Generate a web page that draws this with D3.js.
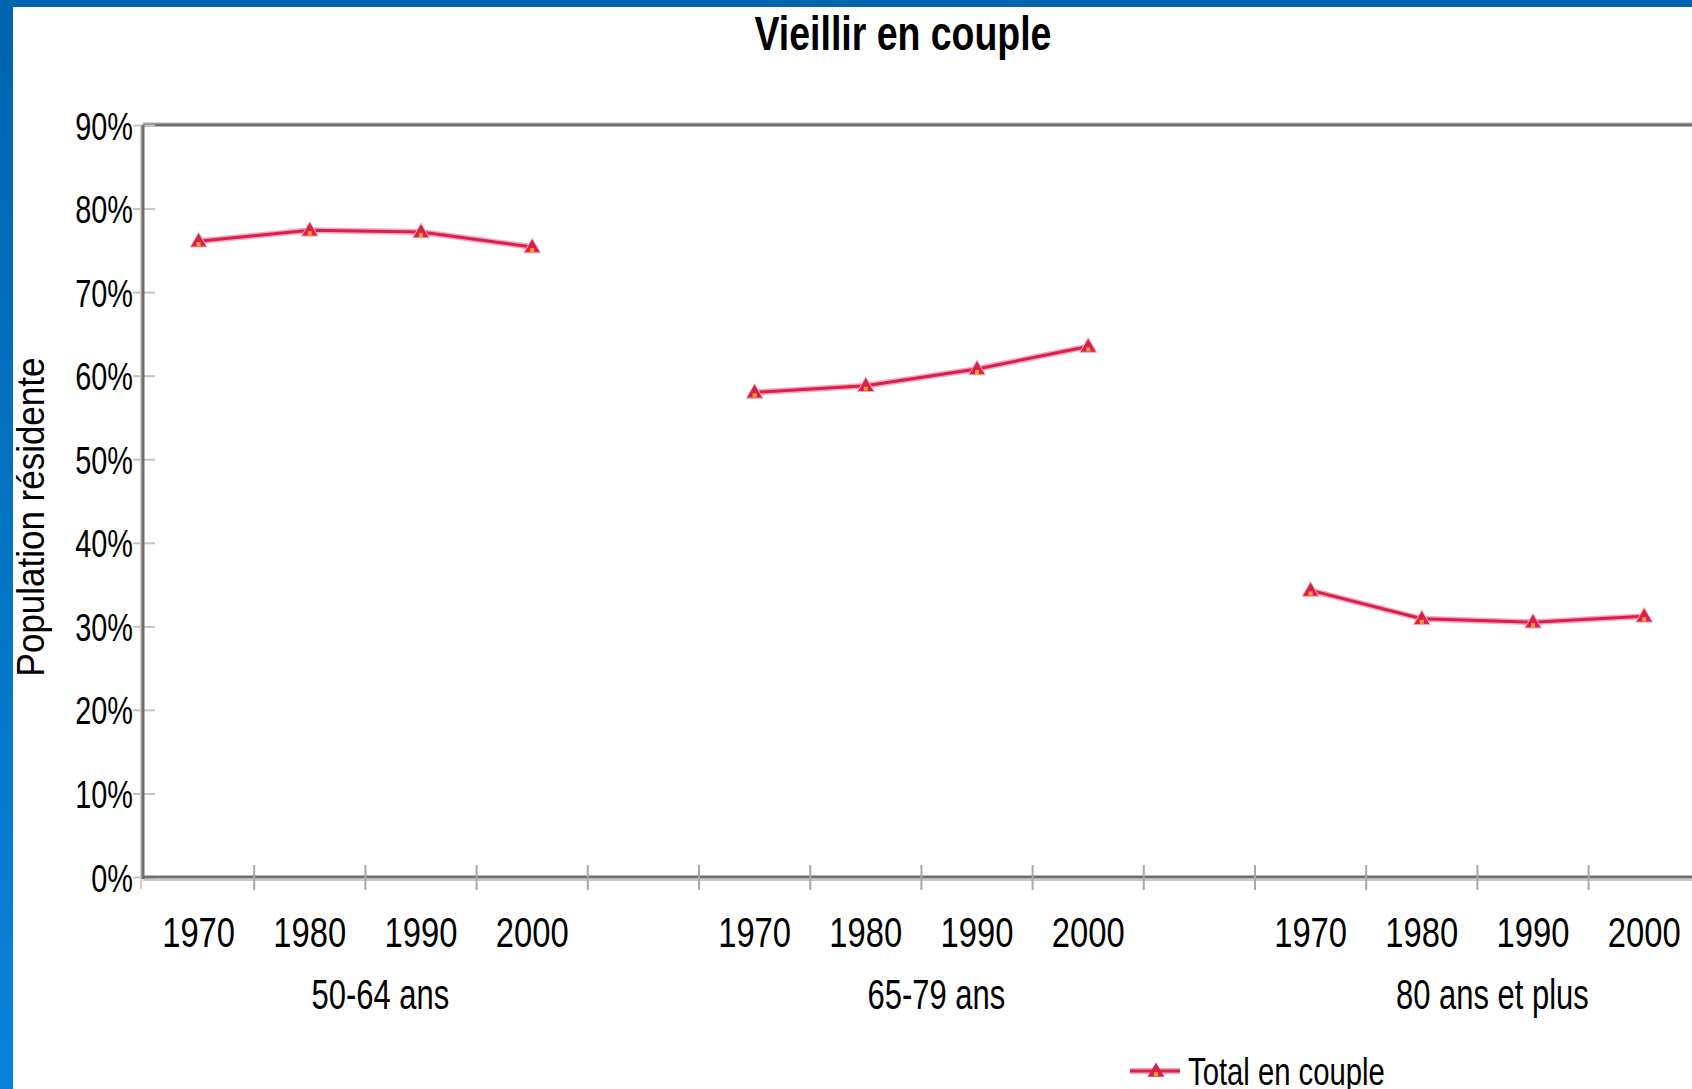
<!DOCTYPE html>
<html>
<head>
<meta charset="utf-8">
<script src="https://cdn.jsdelivr.net/npm/d3@7"></script>
<style>
  body { margin: 0; background: #fff; }
  svg { display: block; font-family: "Liberation Sans", Arial, sans-serif; }
</style>
</head>
<body>
<svg id="chart" width="1692" height="1089"></svg>
<script>
// data
const groups = ["50-64 ans", "65-79 ans", "80 ans et plus"];
const years = ["1970", "1980", "1990", "2000"];
const coupleShare = [
  [76.1, 77.4, 77.2, 75.4],
  [58.0, 58.8, 60.8, 63.5],
  [34.3, 30.9, 30.5, 31.2]
];
const yTicks = [0, 10, 20, 30, 40, 50, 60, 70, 80, 90];
const seriesName = "Total en couple";

const svg = d3.select("#chart");
const W = 1692, H = 1089;
const plotLeft = 143, plotTop = 125, plotBottom = 877, band = 111.2;

// categories: 4 years per group, with an empty slot between groups
const cats = [];
groups.forEach((g, gi) => {
  years.forEach(yr => cats.push(g + "|" + yr));
  if (gi < groups.length - 1) cats.push("gap" + gi);
});

const x = d3.scaleBand().domain(cats).range([plotLeft, plotLeft + band * cats.length]);
const y = d3.scaleLinear().domain([0, 90]).range([plotBottom, plotTop]);

// squeeze text horizontally like the narrow source font
function squeeze(sel, k) {
  sel.each(function() {
    const w = this.getComputedTextLength();
    d3.select(this).attr("textLength", w * k).attr("lengthAdjust", "spacingAndGlyphs");
  });
}

// blue frame
const defs = svg.append("defs");
const grad = defs.append("linearGradient").attr("id", "side")
  .attr("x1", 0).attr("y1", 0).attr("x2", 0).attr("y2", 1);
grad.append("stop").attr("offset", 0).attr("stop-color", "#0064ad");
grad.append("stop").attr("offset", 1).attr("stop-color", "#0a82da");
svg.append("rect").attr("x", 0).attr("y", 0).attr("width", 13).attr("height", H).attr("fill", "url(#side)");
svg.append("rect").attr("x", 0).attr("y", 0).attr("width", W).attr("height", 7).attr("fill", "#0066ae");

// title
svg.append("text").attr("x", 903).attr("y", 50).attr("text-anchor", "middle")
  .attr("font-size", 48).attr("font-weight", "bold").attr("fill", "#000")
  .text("Vieillir en couple").call(squeeze, 0.78);

// y axis title
svg.append("text").attr("transform", "translate(44,517) rotate(-90)")
  .attr("text-anchor", "middle").attr("font-size", 38).attr("fill", "#000")
  .text("Population résidente").call(squeeze, 0.92);

// plot frame: top border
svg.append("line").attr("x1", plotLeft).attr("x2", W).attr("y1", plotTop - 2).attr("y2", plotTop - 2)
  .attr("stroke", "#d4d4d4").attr("stroke-width", 2);
svg.append("line").attr("x1", plotLeft).attr("x2", W).attr("y1", plotTop).attr("y2", plotTop)
  .attr("stroke", "#6e6e6e").attr("stroke-width", 3);

// y axis
const yAxis = svg.append("g").attr("transform", `translate(${plotLeft},0)`)
  .call(d3.axisLeft(y).tickValues(yTicks).tickFormat(d => d + "%").tickSizeOuter(0));
yAxis.select(".domain").remove();
yAxis.selectAll(".tick line").attr("x1", -10).attr("x2", 12)
  .attr("stroke", "#c4c4c4").attr("stroke-width", 2);
yAxis.selectAll(".tick text").attr("x", -10).attr("dy", "0.36em")
  .attr("font-size", 39).attr("fill", "#000")
  .call(squeeze, 0.74);
yAxis.attr("font-family", null).attr("font-size", null);
svg.append("line").attr("x1", plotLeft - 2).attr("x2", plotLeft - 2).attr("y1", plotTop).attr("y2", plotBottom + 12)
  .attr("stroke", "#d0d0d0").attr("stroke-width", 2);
svg.append("line").attr("x1", plotLeft).attr("x2", plotLeft).attr("y1", plotTop).attr("y2", plotBottom + 2)
  .attr("stroke", "#6e6e6e").attr("stroke-width", 3);

// x axis
const xAxis = svg.append("g").attr("transform", `translate(0,${plotBottom})`);
xAxis.append("line").attr("x1", plotLeft).attr("x2", W).attr("y1", 3).attr("y2", 3)
  .attr("stroke", "#c8c8c8").attr("stroke-width", 2);
xAxis.append("line").attr("x1", plotLeft).attr("x2", W).attr("y1", 0).attr("y2", 0)
  .attr("stroke", "#6e6e6e").attr("stroke-width", 3);
xAxis.selectAll(".xt").data(cats.slice(1)).join("line").attr("class", "xt")
  .attr("x1", d => x(d)).attr("x2", d => x(d)).attr("y1", -12).attr("y2", 13)
  .attr("stroke", "#a8a8a8").attr("stroke-width", 2);
xAxis.selectAll(".yl").data(cats.filter(c => c.includes("|"))).join("text").attr("class", "yl")
  .attr("x", d => x(d) + x.bandwidth() / 2).attr("y", 70).attr("text-anchor", "middle")
  .attr("font-size", 42).attr("fill", "#000")
  .text(d => d.split("|")[1]).call(squeeze, 0.78);
xAxis.selectAll(".gl").data(groups).join("text").attr("class", "gl")
  .attr("x", g => (x(g + "|" + years[0]) + x(g + "|" + years[years.length - 1]) + x.bandwidth()) / 2 + 15)
  .attr("y", 132).attr("text-anchor", "middle")
  .attr("font-size", 43).attr("fill", "#000")
  .text(g => g).call(squeeze, 0.72);

// series
const lineColor = "#dc1e4b";
const line = d3.line().x(d => x(d.cat) + x.bandwidth() / 2).y(d => y(d.v));
const tri = d3.symbol().type(d3.symbolTriangle).size(120);

groups.forEach((g, gi) => {
  const pts = years.map((yr, i) => ({ cat: g + "|" + yr, v: coupleShare[gi][i] }));
  svg.append("path").datum(pts).attr("d", line).attr("fill", "none")
    .attr("stroke", "#f3a9ba").attr("stroke-width", 6);
  svg.append("path").datum(pts).attr("d", line).attr("fill", "none")
    .attr("stroke", lineColor).attr("stroke-width", 3);
  const m = svg.selectAll(".m" + gi).data(pts).join("g").attr("class", "m" + gi)
    .attr("transform", d => `translate(${x(d.cat) + x.bandwidth() / 2},${y(d.v) + 1})`);
  m.append("path").attr("d", tri).attr("fill", lineColor).attr("stroke", "#f3a9ba").attr("stroke-width", 1);
  m.append("rect").attr("x", -2).attr("y", 0).attr("width", 4).attr("height", 4).attr("fill", "#f0a228");
});

// legend
const lg = svg.append("g").attr("transform", "translate(1130,1071)");
lg.append("line").attr("x1", 0).attr("x2", 50).attr("stroke", "#f3a9ba").attr("stroke-width", 6);
lg.append("line").attr("x1", 0).attr("x2", 50).attr("stroke", lineColor).attr("stroke-width", 3);
lg.append("path").attr("d", tri).attr("transform", "translate(26,1)").attr("fill", lineColor);
lg.append("rect").attr("x", 24).attr("y", 1).attr("width", 4).attr("height", 4).attr("fill", "#f0a228");
lg.append("text").attr("x", 58).attr("y", 14).attr("font-size", 39).attr("fill", "#000")
  .text(seriesName).call(squeeze, 0.75);
</script>
</body>
</html>
